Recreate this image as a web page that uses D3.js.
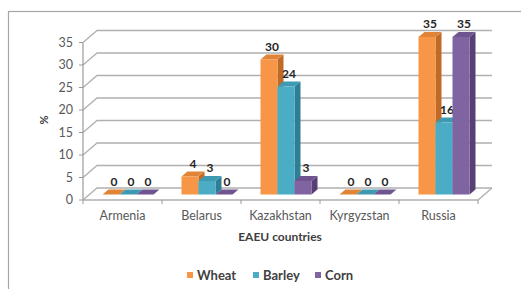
<!DOCTYPE html>
<html><head><meta charset="utf-8">
<script src="https://cdn.jsdelivr.net/npm/d3@7"></script>
<style>body{margin:0;background:#fff}svg{display:block}</style>
</head><body>
<script>
const countries = ["Armenia","Belarus","Kazakhstan","Kyrgyzstan","Russia"];
const seriesNames = ["Wheat","Barley","Corn"];
const wheat = [0,4,30,0,35];
const barley = [0,3,24,0,16];
const corn = [0,0,3,0,35];
const yTicks = [0,5,10,15,20,25,30,35];
const colors = {Wheat:["#F79646","#C06A25","#E08438"],Barley:["#4BACC6","#2C7F95","#3E9AB3"],Corn:["#8064A2","#574074","#6E5590"]};
const values = {Wheat:wheat,Barley:barley,Corn:corn};

const W=521,H=289;
const svg=d3.select("body").append("svg").attr("width",W).attr("height",H);
const font="Lato, 'Open Sans', sans-serif";
svg.append("rect").attr("x",8.5).attr("y",11.5).attr("width",530).attr("height",300).attr("fill","#fff").attr("stroke","#a6a6a6").attr("stroke-width",1.2);

const x0=83,x1=478,yBase=200,yTop=42.5;
const dX=14,dY=-12;
const x=d3.scaleBand().domain(countries).range([x0,x1]);
const y=d3.scaleLinear().domain([0,35]).range([yBase,yTop]);
const xs=d3.scaleBand().domain(seriesNames).range([0,51]);
const fX=5.5,fY=-5.5,bX=6,bY=-5;

const grid="#b0b0b0";
yTicks.forEach(t=>{
  const yy=y(t);
  svg.append("path").attr("d",`M${x0},${yy}L${x0+dX},${yy+dY}L${x1+dX},${yy+dY}`).attr("fill","none").attr("stroke",grid).attr("stroke-width",1.3);
});
svg.append("path").attr("d",`M${x0},${yBase}L${x1},${yBase}L${x1+dX},${yBase+dY}`).attr("fill","none").attr("stroke",grid).attr("stroke-width",1.3);
svg.append("line").attr("x1",x0).attr("x2",x0).attr("y1",yTop).attr("y2",yBase).attr("stroke","#9a9a9a").attr("stroke-width",1.2);
yTicks.forEach(t=>{
  svg.append("line").attr("x1",x0-4).attr("x2",x0).attr("y1",y(t)).attr("y2",y(t)).attr("stroke","#9a9a9a");
  svg.append("text").attr("x",x0-10).attr("y",y(t)).attr("dy","0.35em").attr("text-anchor","end").attr("font-family",font).attr("font-size",12.5).attr("fill","#595959").text(t);
});
[...countries.map(c=>x(c)),x1].forEach(v=>{
  svg.append("line").attr("x1",v).attr("x2",v).attr("y1",yBase).attr("y2",yBase+4).attr("stroke","#9a9a9a");
});
countries.forEach(c=>{
  svg.append("text").attr("x",x(c)+x.bandwidth()/2).attr("y",216).attr("dy","0.35em").attr("text-anchor","middle").attr("font-family",font).attr("font-size",12.5).attr("fill","#595959").text(c);
});
const bw=xs.bandwidth();
countries.forEach((c,i)=>{
  const gx=x(c)+x.bandwidth()/2-25.5+fX;
  seriesNames.forEach(s=>{
    const v=values[s][i];
    const L=gx+xs(s), R=L+bw;
    const T=y(v)+fY, B=yBase+fY;
    const col=colors[s];
    const g=svg.append("g");
    g.append("path").attr("d",`M${R},${B}L${R+bX},${B+bY}L${R+bX},${T+bY}L${R},${T}Z`).attr("fill",col[1]);
    g.append("path").attr("d",`M${L},${T}L${L+bX},${T+bY}L${R+bX},${T+bY}L${R},${T}Z`).attr("fill",col[2]);
    g.append("rect").attr("x",L).attr("y",T).attr("width",bw).attr("height",Math.max(0,B-T)).attr("fill",col[0]);
    svg.append("text").attr("x",L+bw/2+bX/2).attr("y",T+bY-4).attr("text-anchor","middle").attr("font-family",font).attr("font-weight","bold").attr("font-size",12).attr("fill","#262626").text(v);
  });
});
svg.append("text").attr("transform","translate(44,120) rotate(-90)").attr("text-anchor","middle").attr("dy","0.35em").attr("font-family",font).attr("font-weight","bold").attr("font-size",11).attr("fill","#404040").text("%");
svg.append("text").attr("x",280).attr("y",237).attr("dy","0.35em").attr("text-anchor","middle").attr("font-family",font).attr("font-weight","bold").attr("font-size",12).attr("fill","#404040").text("EAEU countries");
const lx=[187,253,315];
seriesNames.forEach((s,i)=>{
  svg.append("rect").attr("x",lx[i]).attr("y",272).attr("width",6).attr("height",6).attr("fill",colors[s][0]);
  svg.append("text").attr("x",lx[i]+10).attr("y",275).attr("dy","0.35em").attr("font-family",font).attr("font-weight","bold").attr("font-size",13).attr("fill","#404040").text(s);
});
</script>
</body></html>
